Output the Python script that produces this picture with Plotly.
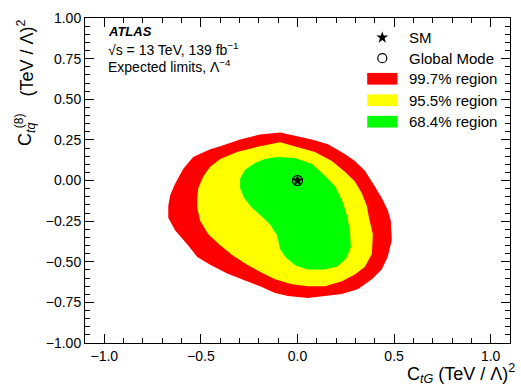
import plotly.graph_objects as go

# Region boundaries (C_tG, C_tq^(8))
red_x = [-0.090, -0.013, 0.075, 0.158, 0.245, 0.297, 0.349, 0.400, 0.436, 0.467, 0.483, 0.488, 0.467, 0.436,
         0.385, 0.312, 0.230, 0.142, 0.054, -0.049, -0.116, -0.194, -0.282, -0.364, -0.452, -0.519, -0.571,
         -0.633, -0.669, -0.669, -0.659, -0.633, -0.591, -0.540, -0.452, -0.400, -0.297, -0.194]
red_y = [0.295, 0.277, 0.253, 0.223, 0.163, 0.120, 0.060, -0.036, -0.108, -0.181, -0.247, -0.367, -0.470, -0.548,
         -0.608, -0.669, -0.699, -0.711, -0.723, -0.711, -0.693, -0.651, -0.608, -0.572, -0.518, -0.470, -0.392,
         -0.307, -0.229, -0.157, -0.090, -0.018, 0.072, 0.145, 0.193, 0.211, 0.253, 0.283]

yel_x = [-0.090, -0.013, 0.090, 0.178, 0.245, 0.297, 0.333, 0.359, 0.370, 0.390, 0.385, 0.349, 0.297, 0.230,
         0.142, 0.054, -0.028, -0.116, -0.178, -0.261, -0.338, -0.400, -0.462, -0.504, -0.519, -0.519, -0.514,
         -0.488, -0.452, -0.400, -0.313, -0.194]
yel_y = [0.235, 0.211, 0.175, 0.120, 0.054, -0.006, -0.078, -0.157, -0.229, -0.331, -0.452, -0.530, -0.578, -0.620,
         -0.651, -0.651, -0.639, -0.608, -0.572, -0.518, -0.458, -0.398, -0.331, -0.247, -0.169, -0.108, -0.048,
         0.024, 0.084, 0.133, 0.175, 0.211]

grn_x = [-0.106, -0.013, 0.075, 0.142, 0.194, 0.230, 0.256, 0.271, 0.276, 0.251, 0.204, 0.137, 0.054, -0.008,
         -0.059, -0.090, -0.106, -0.142, -0.183, -0.235, -0.276, -0.297, -0.297, -0.271, -0.220, -0.168]
grn_y = [0.145, 0.139, 0.102, 0.030, -0.036, -0.120, -0.217, -0.307, -0.410, -0.482, -0.530, -0.548, -0.548, -0.524,
         -0.476, -0.422, -0.337, -0.271, -0.223, -0.169, -0.108, -0.048, 0.012, 0.066, 0.108, 0.133]

sm_point = (0.0, 0.0)
mode_point = (0.0, 0.0)

x_ticks = [-1.0, -0.5, 0.0, 0.5, 1.0]
y_ticks = [-1.0, -0.75, -0.5, -0.25, 0.0, 0.25, 0.5, 0.75, 1.0]

legend_labels = ["SM", "Global Mode", "99.7% region", "95.5% region", "68.4% region"]

RED, YEL, GRN = "#ff0000", "#ffff00", "#00ff00"
FONT = "Liberation Sans, Arial, sans-serif"

fig = go.Figure()
for xs, ys, col in [(red_x, red_y, RED), (yel_x, yel_y, YEL), (grn_x, grn_y, GRN)]:
    fig.add_trace(go.Scatter(x=xs + [xs[0]], y=ys + [ys[0]], mode="lines", fill="toself",
                             fillcolor=col, line=dict(width=0, color=col), hoverinfo="skip",
                             showlegend=False))

fig.add_trace(go.Scatter(x=[mode_point[0]], y=[mode_point[1]], mode="markers",
                         marker=dict(symbol="circle-open", size=10, color="black", line=dict(width=1.2)),
                         showlegend=False))
fig.add_trace(go.Scatter(x=[sm_point[0]], y=[sm_point[1]], mode="markers",
                         marker=dict(symbol="star", size=9, color="black"), showlegend=False))

# manual legend on overlay axes (0..1)
leg_y = [0.9398, 0.8765, 0.813, 0.747, 0.681]
fig.add_trace(go.Scatter(x=[0.6995], y=[leg_y[0]], xaxis="x2", yaxis="y2", mode="markers",
                         marker=dict(symbol="star", size=9, color="black"), showlegend=False))
fig.add_trace(go.Scatter(x=[0.6995], y=[leg_y[1]], xaxis="x2", yaxis="y2", mode="markers",
                         marker=dict(symbol="circle-open", size=9, color="black", line=dict(width=1.2)),
                         showlegend=False))
shapes = []
for yc, col in zip(leg_y[2:], [RED, YEL, GRN]):
    shapes.append(dict(type="rect", xref="paper", yref="paper", x0=0.664, x1=0.735,
                       y0=yc - 0.018, y1=yc + 0.018, fillcolor=col, line=dict(width=0)))

annotations = []
for yc, lab in zip(leg_y, legend_labels):
    annotations.append(dict(xref="paper", yref="paper", x=0.7585, y=yc, text=lab, showarrow=False,
                            xanchor="left", yanchor="middle", font=dict(family=FONT, size=15, color="black")))

annotations += [
    dict(xref="paper", yref="paper", x=0.050, y=0.958, text="<b><i>ATLAS</i></b>", showarrow=False,
         xanchor="left", yanchor="middle", font=dict(family=FONT, size=13, color="black")),
    dict(xref="paper", yref="paper", x=0.050, y=0.906, text="√s = 13 TeV, 139 fb<sup>−1</sup>", showarrow=False,
         xanchor="left", yanchor="middle", font=dict(family=FONT, size=14, color="black")),
    dict(xref="paper", yref="paper", x=0.050, y=0.851, text="Expected limits, Λ<sup>−4</sup>", showarrow=False,
         xanchor="left", yanchor="middle", font=dict(family=FONT, size=14, color="black")),
    dict(xref="paper", yref="paper", x=1.016, y=-0.095, text="C<sub><i>tG</i></sub> (TeV / Λ)<sup>2</sup>",
         showarrow=False, xanchor="right", yanchor="middle", font=dict(family=FONT, size=18, color="black")),
    dict(xref="paper", yref="paper", x=-0.139, y=1.003, text="(TeV / Λ)<sup>2</sup>",
         textangle=-90, showarrow=False, xanchor="center", yanchor="top",
         font=dict(family=FONT, size=18, color="black")),
    dict(xref="paper", yref="paper", x=-0.139, y=0.600, text="C<sub><i>tq</i></sub>",
         textangle=-90, showarrow=False, xanchor="center", yanchor="bottom",
         font=dict(family=FONT, size=18, color="black")),
    dict(xref="paper", yref="paper", x=-0.155, y=0.683, text="(8)",
         textangle=-90, showarrow=False, xanchor="center", yanchor="middle",
         font=dict(family=FONT, size=12, color="black")),
]

axis_common = dict(showgrid=False, zeroline=False, showline=True, linecolor="black", linewidth=1,
                   mirror="allticks", ticks="inside", ticklen=9, tickwidth=1, tickcolor="black",
                   tickfont=dict(family=FONT, size=14, color="black"))

fig.update_layout(
    width=521, height=387,
    margin=dict(l=85, r=10, t=11, b=44),
    paper_bgcolor="white", plot_bgcolor="white",
    xaxis=dict(range=[-1.1, 1.1], tickvals=x_ticks, ticktext=[f"{v:.1f}".replace("-", "−") for v in x_ticks],
               minor=dict(dtick=0.1, tick0=0, ticklen=5, ticks="inside", tickcolor="black"),
               **axis_common),
    yaxis=dict(range=[-1.0, 1.0], tickvals=y_ticks, ticktext=[f"{v:.2f}".replace("-", "−") for v in y_ticks],
               minor=dict(dtick=0.05, tick0=0, ticklen=5, ticks="inside", tickcolor="black"),
               **axis_common),
    xaxis2=dict(overlaying="x", range=[0, 1], visible=False),
    yaxis2=dict(overlaying="y", range=[0, 1], visible=False),
    shapes=shapes, annotations=annotations, showlegend=False,
)

fig.write_html("out.html", config={"displayModeBar": False},
               post_script="document.body.style.margin='0';document.body.style.overflow='hidden';")
